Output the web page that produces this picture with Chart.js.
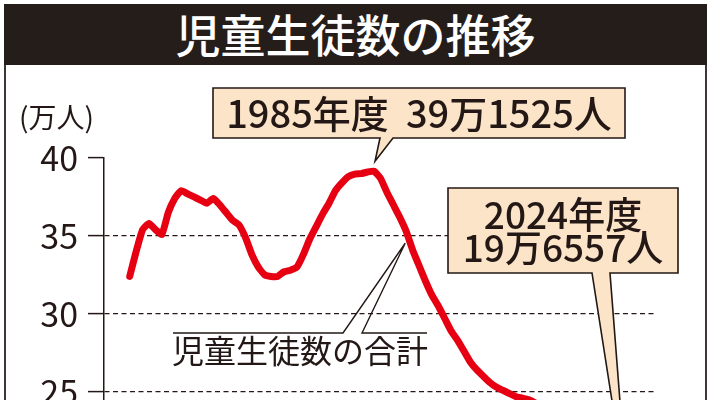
<!DOCTYPE html>
<html lang="ja">
<head>
<meta charset="utf-8">
<title>児童生徒数の推移</title>
<script src="https://cdn.jsdelivr.net/npm/chart.js@4/dist/chart.umd.min.js"></script>
<style>
  body { margin: 0; width: 711px; height: 400px; overflow: hidden; background: #fff; position: relative; font-family: "Noto Sans CJK JP", sans-serif; }
  #title { position: absolute; left: 4px; top: 4px; width: 703px; height: 61px; background: #251d1a; color: #fff; font-size: 45px; font-weight: 500; text-align: center; line-height: 60px; }
  #frame { position: absolute; left: 4px; top: 65px; width: 699px; height: 400px; border-left: 2px solid #3b3533; border-right: 2px solid #3b3533; }
  #wrap { position: absolute; left: 6px; top: 66px; }
</style>
</head>
<body>
<div id="title">児童生徒数の推移</div>
<div id="frame"></div>
<div id="wrap"><canvas id="c" width="699" height="512"></canvas></div>
<script>
// 年度
const years = [
  1947, 1948, 1949, 1950, 1951, 1952, 1953, 1954, 1955, 1956, 1957, 1958, 1959,
  1960, 1961, 1962, 1963, 1964, 1965, 1966, 1967, 1968, 1969, 1970, 1971, 1972,
  1973, 1974, 1975, 1976, 1977, 1978, 1979, 1980, 1981, 1982, 1983, 1984, 1985,
  1986, 1987, 1988, 1989, 1990, 1991, 1992, 1993, 1994, 1995, 1996, 1997, 1998,
  1999, 2000, 2001, 2002, 2003, 2004, 2005, 2006, 2007, 2008, 2009, 2010, 2011,
  2012, 2013, 2014, 2015, 2016, 2017, 2018, 2019, 2020, 2021, 2022, 2023, 2024
];
// 児童生徒数の合計（万人）
const totals = [
  32.4, 34.0, 35.4, 35.8, 35.4, 35.1, 36.5, 37.4, 37.9, 37.7, 37.5, 37.3, 37.1,
  37.4, 37.0, 36.5, 36.0, 35.7, 34.9, 33.8, 33.0, 32.5, 32.4, 32.4, 32.7, 32.8,
  33.0, 33.8, 34.8, 35.6, 36.4, 37.1, 37.9, 38.4, 38.8, 38.97, 39.0, 39.1, 39.15,
  38.7, 37.8, 37.0, 36.2, 35.3, 34.1, 33.1, 32.1, 31.2, 30.5, 29.7, 28.9, 28.3,
  27.6, 26.9, 26.4, 26.0, 25.6, 25.3, 25.1, 24.9, 24.7, 24.6, 24.5, 24.3, 24.0,
  23.7, 23.4, 23.1, 22.8, 22.5, 22.2, 21.9, 21.6, 21.3, 21.0, 20.6, 20.2, 19.66
];
const yTicks = [15, 20, 25, 30, 35, 40];

const unitLabel = '(万人)';
const seriesLabel = '児童生徒数の合計';
const peakYear = 1985;
const peakLabel = '1985年度  39万1525人';
const lastYear = 2024;
const lastLabel = ['2024年度', '19万6557人'];

const ink = '#231815';
const font = '"Noto Sans CJK JP", "Noto Sans", sans-serif';

function pointAt(chart, year) {
  const i = years.indexOf(year);
  return {
    x: chart.scales.x.getPixelForValue(year),
    y: chart.scales.y.getPixelForValue(totals[i])
  };
}

// 吹き出し（箱＋とがり）
function bubble(ctx, l, t, r, b, bl, br, tip) {
  ctx.beginPath();
  ctx.moveTo(l, t);
  ctx.lineTo(r, t);
  ctx.lineTo(r, b);
  ctx.lineTo(br, b);
  ctx.lineTo(tip.x, tip.y);
  ctx.lineTo(bl, b);
  ctx.lineTo(l, b);
  ctx.closePath();
  ctx.fillStyle = '#fce4c8';
  ctx.fill();
  ctx.lineWidth = 1.6;
  ctx.strokeStyle = ink;
  ctx.stroke();
}

const notes = {
  id: 'notes',
  afterDatasetsDraw(chart) {
    const ctx = chart.ctx;
    ctx.save();
    ctx.fillStyle = ink;

    // 単位
    ctx.font = '28px ' + font;
    ctx.textAlign = 'left';
    ctx.textBaseline = 'middle';
    ctx.fillText(unitLabel, 13, 51);

    // 系列名と引き出し線
    const s = pointAt(chart, 1990);
    ctx.beginPath();
    ctx.moveTo(167, 267);
    ctx.lineTo(337, 267);
    ctx.lineTo(s.x - 1, s.y + 12);
    ctx.lineTo(356, 267);
    ctx.lineTo(421, 267);
    ctx.lineWidth = 1.4;
    ctx.strokeStyle = ink;
    ctx.stroke();
    ctx.font = '32px ' + font;
    ctx.textAlign = 'center';
    ctx.fillText(seriesLabel, 294, 285);

    // 1985年度のピーク
    const p = pointAt(chart, peakYear);
    bubble(ctx, 207, 22, 619, 72, 374, 387, { x: p.x + 1, y: p.y - 10 });
    ctx.fillStyle = ink;
    ctx.font = '500 38px ' + font;
    ctx.fillText(peakLabel, 413, 48);

    // 2024年度
    const q = pointAt(chart, lastYear);
    bubble(ctx, 442, 122, 672, 207, 586, 604, { x: q.x + 3, y: q.y + 27 });
    ctx.fillStyle = ink;
    ctx.font = '500 37px ' + font;
    ctx.fillText(lastLabel[0], 557, 149);
    ctx.fillText(lastLabel[1], 557, 182);

    ctx.restore();
  }
};

new Chart(document.getElementById('c'), {
  type: 'line',
  data: {
    labels: years,
    datasets: [{
      label: seriesLabel,
      data: totals,
      borderColor: '#e60012',
      borderWidth: 7,
      pointRadius: 0,
      tension: 0.15,
      borderJoinStyle: 'round',
      borderCapStyle: 'round',
      fill: false
    }]
  },
  options: {
    responsive: false,
    animation: false,
    devicePixelRatio: 1,
    layout: { padding: { top: 92, right: 50, bottom: 8, left: 0 } },
    plugins: {
      legend: { display: false },
      tooltip: { enabled: false }
    },
    scales: {
      x: { type: 'linear', min: 1943, max: 2028.7, display: false },
      y: {
        min: 15,
        max: 40,
        afterFit: (scale) => { scale.width = 98; },
        afterBuildTicks: (scale) => { scale.ticks = yTicks.map(v => ({ value: v })); },
        ticks: {
          color: ink,
          padding: 10,
          font: { family: font, size: 34 }
        },
        grid: {
          color: (c) => (c.tick && c.tick.value === 40) ? 'rgba(0,0,0,0)' : ink,
          lineWidth: 1.2,
          tickColor: ink,
          tickWidth: 1.5,
          tickLength: 16
        },
        border: { color: ink, width: 1.5, dash: [5, 3.5] }
      }
    }
  },
  plugins: [notes]
});
</script>
</body>
</html>
